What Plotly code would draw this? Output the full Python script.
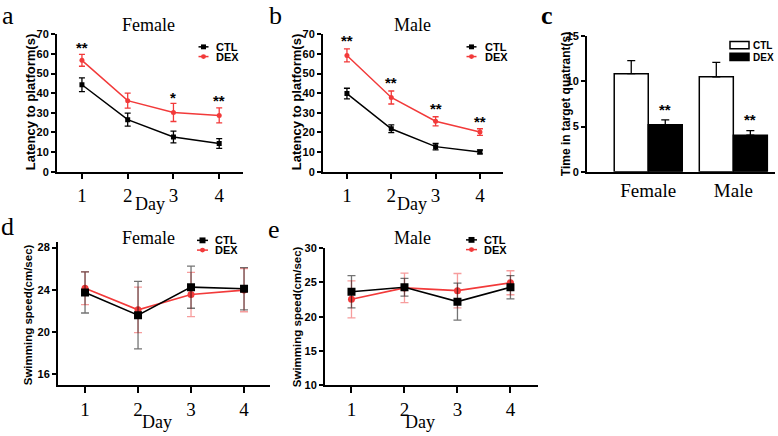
import plotly.graph_objects as go

W, H = 778, 436

# ---------------- data ----------------
days = [1, 2, 3, 4]
day_labels = ["1", "2", "3", "4"]

a_ctl = [44.3, 26.5, 17.7, 14.4]
a_ctl_err = [3.5, 3.3, 3.0, 2.5]
a_dex = [56.7, 36.2, 30.2, 28.7]
a_dex_err = [3.0, 3.8, 4.6, 3.8]
a_star_days = [1, 3, 4]
a_star_y = [62.2, 37.0, 35.2]
a_star_text = ["**", "*", "**"]

b_ctl = [39.8, 21.9, 12.8, 10.1]
b_ctl_err = [2.7, 2.0, 1.6, 1.0]
b_dex = [59.2, 37.8, 25.7, 20.2]
b_dex_err = [3.3, 3.3, 2.3, 1.7]
b_star_days = [1, 2, 3, 4]
b_star_y = [66.0, 44.3, 31.2, 24.4]
b_star_text = ["**", "**", "**", "**"]

c_groups = ["Female", "Male"]
c_ctl = [10.85, 10.5]
c_ctl_err = [1.45, 1.6]
c_dex = [5.2, 4.05]
c_dex_err = [0.55, 0.5]
c_star_y = [6.7, 5.6]
c_star_text = ["**", "**"]

d_ctl = [23.75, 21.6, 24.25, 24.1]
d_ctl_err = [1.95, 3.2, 2.0, 2.0]
d_dex = [24.15, 22.1, 23.55, 23.97]
d_dex_err = [1.55, 2.15, 2.1, 2.05]

e_ctl = [23.63, 24.3, 22.2, 24.3]
e_ctl_err = [2.35, 1.3, 2.7, 1.7]
e_dex = [22.54, 24.2, 23.8, 24.95]
e_dex_err = [2.7, 2.15, 2.5, 1.75]

RED = "#f23a3a"
SANS = "Liberation Sans, Arial, sans-serif"
SERIF = "Liberation Serif, Times New Roman, serif"


def px(x):
    return x / W


def py(y):
    return 1 - y / H


def dx(a, b):
    return [px(a), px(b)]


def dy(top, bottom):
    return [py(bottom), py(top)]


fig = go.Figure()

# ---- panel a / b lines ----
for xa, ya, ctl, ctle, dex, dexe in [("x", "y", a_ctl, a_ctl_err, a_dex, a_dex_err),
                                      ("x2", "y2", b_ctl, b_ctl_err, b_dex, b_dex_err)]:
    fig.add_trace(go.Scatter(x=days, y=dex, mode="lines+markers", name="DEX",
                             line=dict(color=RED, width=1.5),
                             marker=dict(symbol="circle", size=5, color=RED),
                             error_y=dict(type="data", array=dexe, color=RED, thickness=1.3, width=3),
                             xaxis=xa, yaxis=ya, showlegend=False))
    fig.add_trace(go.Scatter(x=days, y=ctl, mode="lines+markers", name="CTL",
                             line=dict(color="black", width=1.5),
                             marker=dict(symbol="square", size=5, color="black"),
                             error_y=dict(type="data", array=ctle, color="black", thickness=1.3, width=3),
                             xaxis=xa, yaxis=ya, showlegend=False))

# ---- panel c bars ----
fig.add_trace(go.Bar(x=c_groups, y=c_ctl, name="CTL",
                     marker=dict(color="white", line=dict(color="black", width=1.5)),
                     error_y=dict(type="data", array=c_ctl_err, arrayminus=[0, 0], symmetric=False,
                                  color="black", thickness=1.3, width=4),
                     xaxis="x3", yaxis="y3", showlegend=False))
fig.add_trace(go.Bar(x=c_groups, y=c_dex, name="DEX",
                     marker=dict(color="black", line=dict(color="black", width=1.5)),
                     error_y=dict(type="data", array=c_dex_err, arrayminus=[0, 0], symmetric=False,
                                  color="black", thickness=1.3, width=4),
                     xaxis="x3", yaxis="y3", showlegend=False))

# ---- panel d / e ----
for xa, ya, ctl, ctle, dex, dexe in [("x4", "y4", d_ctl, d_ctl_err, d_dex, d_dex_err),
                                      ("x5", "y5", e_ctl, e_ctl_err, e_dex, e_dex_err)]:
    fig.add_trace(go.Scatter(x=days, y=dex, mode="lines+markers", name="DEX",
                             line=dict(color=RED, width=1.6),
                             marker=dict(symbol="circle", size=7, color=RED),
                             error_y=dict(type="data", array=dexe, color="rgba(240,60,60,0.5)",
                                          thickness=1.3, width=4),
                             xaxis=xa, yaxis=ya, showlegend=False))
    fig.add_trace(go.Scatter(x=days, y=ctl, mode="lines+markers", name="CTL",
                             line=dict(color="black", width=1.6),
                             marker=dict(symbol="square", size=8, color="black"),
                             error_y=dict(type="data", array=ctle, color="rgba(0,0,0,0.55)",
                                          thickness=1.3, width=4),
                             xaxis=xa, yaxis=ya, showlegend=False))

tickfont_y = dict(family=SANS, size=11, color="black", weight="bold")
tickfont_x = dict(family=SERIF, size=19, color="black")


def xaxis(dom, rng, anchor, ticklen=5, showticks=True, **kw):
    d = dict(domain=dom, range=rng, anchor=anchor, showline=True, linecolor="black", linewidth=2,
             ticks="outside" if showticks else "", ticklen=ticklen, tickwidth=2, tickcolor="black",
             showgrid=False, zeroline=False, tickfont=tickfont_x, fixedrange=True)
    d.update(kw)
    return d


def yaxis(dom, rng, anchor, tickvals):
    return dict(domain=dom, range=rng, anchor=anchor, showline=True, linecolor="black", linewidth=2,
                ticks="outside", ticklen=4, tickwidth=2, tickcolor="black", tickvals=tickvals,
                showgrid=False, zeroline=False, tickfont=tickfont_y, fixedrange=True)


fig.update_layout(
    width=W, height=H, margin=dict(l=0, r=0, t=0, b=0),
    paper_bgcolor="white", plot_bgcolor="rgba(0,0,0,0)",
    barmode="group", bargap=0.2, bargroupgap=0,
    xaxis=xaxis(dx(57, 243), [0.455, 4.52], "y", tickvals=days, ticktext=day_labels),
    yaxis=yaxis(dy(29, 170.5), [0, 70], "x", [0, 10, 20, 30, 40, 50, 60, 70]),
    xaxis2=xaxis(dx(323, 503), [0.46, 4.52], "y2", tickvals=days, ticktext=day_labels),
    yaxis2=yaxis(dy(29, 170.5), [0, 70], "x2", [0, 10, 20, 30, 40, 50, 60, 70]),
    xaxis3=xaxis(dx(587, 775), [-0.72, 1.49], "y3", showticks=False,
                 tickfont=dict(family=SERIF, size=19, color="black")),
    yaxis3=yaxis(dy(31, 170.5), [0, 15], "x3", [0, 5, 10, 15]),
    xaxis4=xaxis(dx(58, 270), [0.49, 4.49], "y4", ticklen=6, tickvals=days, ticktext=day_labels),
    yaxis4=yaxis(dy(243, 389.5), [15, 28.5], "x4", [16, 20, 24, 28]),
    xaxis5=xaxis(dx(325, 538), [0.5, 4.52], "y5", ticklen=6, tickvals=days, ticktext=day_labels),
    yaxis5=yaxis(dy(249, 390), [10, 30], "x5", [10, 15, 20, 25, 30]),
)

ann = []


def text(x, y, t, size, family, bold=False, angle=0, color="black", xanchor="center"):
    f = dict(family=family, size=size, color=color)
    if bold:
        f["weight"] = "bold"
    ann.append(dict(x=px(x), y=py(y), xref="paper", yref="paper", text=t, showarrow=False,
                    font=f, textangle=angle, xanchor=xanchor, yanchor="middle"))


# panel letters
text(8, 10, "a", 26, SERIF)
text(275, 10, "b", 26, SERIF)
text(547, 10, "c", 26, SERIF, bold=True)
text(8, 227, "d", 26, SERIF)
text(274, 230, "e", 26, SERIF)

# panel titles
text(148, 20, "Female", 18, SERIF)
text(412, 20, "Male", 18, SERIF)
text(148, 239, "Female", 18, SERIF)
text(412, 239, "Male", 18, SERIF)

# x titles
text(150, 204, "Day", 18, SERIF)
text(412, 204, "Day", 18, SERIF)
text(157, 428, "Day", 18, SERIF)
text(420, 428, "Day", 18, SERIF)

# y titles
text(30, 99, "Latency to platform(s)", 13, SANS, bold=True, angle=-90)
text(296, 99, "Latency to platform(s)", 13, SANS, bold=True, angle=-90)
text(566, 101, "Time in target quatrant(s)", 12, SANS, bold=True, angle=-90)
text(28, 318, "Swimming speed(cm/sec)", 11.5, SANS, bold=True, angle=-90)
text(297, 320, "Swimming speed(cm/sec)", 11.5, SANS, bold=True, angle=-90)

# significance stars
for xs, ys, ts, xr, yr in [(a_star_days, a_star_y, a_star_text, "x", "y"),
                           (b_star_days, b_star_y, b_star_text, "x2", "y2")]:
    for xv, yv, tv in zip(xs, ys, ts):
        ann.append(dict(x=xv, y=yv, xref=xr, yref=yr, text=tv, showarrow=False, yshift=2,
                        font=dict(family=SANS, size=15, color="black", weight="bold")))
for g, yv, tv in zip(c_groups, c_star_y, c_star_text):
    ann.append(dict(x=g, y=yv, xref="x3", yref="y3", text=tv, showarrow=False, xshift=17, yshift=2,
                    font=dict(family=SANS, size=15, color="black", weight="bold")))

# legends (glyph + text)
shapes = []


def leg_line(x, y, color, symbol, msize, llen=10, lw=1.5):
    shapes.append(dict(type="line", xref="paper", yref="paper", x0=px(x - llen / 2), x1=px(x + llen / 2),
                       y0=py(y), y1=py(y), line=dict(color=color, width=lw)))
    h = msize / 2
    shapes.append(dict(type="rect" if symbol == "square" else "circle", xref="paper", yref="paper",
                       x0=px(x - h), x1=px(x + h), y0=py(y + h), y1=py(y - h),
                       fillcolor=color, line=dict(color=color, width=0)))


for (lx, ly) in [(203.5, 42), (471.5, 42)]:
    leg_line(lx, ly, "black", "square", 5)
    leg_line(lx, ly + 10, RED, "circle", 5)
    text(lx + 11, ly, "CTL", 11, SANS, bold=True, xanchor="left")
    text(lx + 11, ly + 10, "DEX", 11, SANS, bold=True, xanchor="left")

for (lx, ly) in [(202.5, 241), (471.5, 240.5)]:
    leg_line(lx, ly, "black", "square", 6, llen=11)
    leg_line(lx, ly + 10, RED, "circle", 5, llen=11)
    text(lx + 10, ly, "CTL", 11, SANS, bold=True, xanchor="left")
    text(lx + 10, ly + 10, "DEX", 11, SANS, bold=True, xanchor="left")

# panel c legend boxes
shapes.append(dict(type="rect", xref="paper", yref="paper", x0=px(730), x1=px(749), y0=py(44), y1=py(36.5),
                   fillcolor="white", line=dict(color="black", width=1.5)))
shapes.append(dict(type="rect", xref="paper", yref="paper", x0=px(730), x1=px(749), y0=py(56), y1=py(48.5),
                   fillcolor="black", line=dict(color="black", width=1.5)))
text(751, 40.5, "CTL", 10, SANS, bold=True, xanchor="left")
text(751, 52.5, "DEX", 10, SANS, bold=True, xanchor="left")

fig.update_layout(annotations=ann, shapes=shapes)

fig.write_html("out.html", config={"displayModeBar": False},
               post_script="document.body.style.margin='0';document.body.style.padding='0';")
